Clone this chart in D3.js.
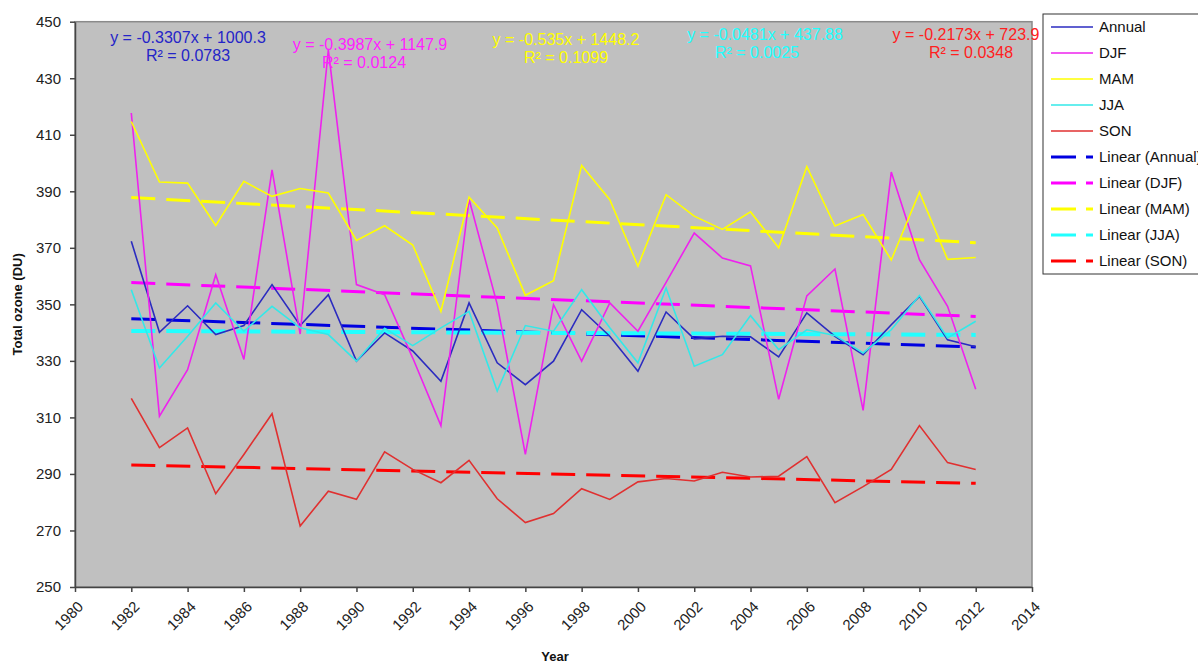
<!DOCTYPE html>
<html>
<head>
<meta charset="utf-8">
<script src="https://cdn.jsdelivr.net/npm/d3@7"></script>
<style>
  body { margin: 0; background: #fff; }
  svg { font-family: Arial, "Liberation Sans", sans-serif; }
  .axis text { font-size: 15px; fill: #222; }
  .axis path, .axis line { stroke: #444; stroke-width: 1.5; }
  .title { font-size: 13px; font-weight: bold; fill: #111; }
  .eq { font-size: 16px; text-anchor: middle; }
  .legend text { font-size: 15px; fill: #111; }
</style>
</head>
<body>
<svg width="1198" height="663"></svg>
<script>
// years on the x axis
const years = d3.range(1982, 2013)

// series values (DU)
const annual = [372.3, 340.1, 349.5, 339.3, 342.5, 357.0, 342.5, 353.4, 329.9, 339.9, 333.5,
  322.8, 350.5, 329.3, 321.6, 329.9, 348.1, 338.7, 326.3, 347.3, 337.8, 338.7, 338.5, 331.4,
  347.0, 338.7, 332.2, 342.8, 352.8, 337.5, 335.0]
const djf = [417.7, 310.4, 326.9, 360.5, 330.5, 397.6, 339.5, 440.0, 357.0, 353.4, 331.0,
  307.1, 387.2, 350.0, 296.9, 349.9, 329.9, 350.5, 340.5, 357.8, 375.2, 366.4, 363.6, 316.4,
  353.0, 362.5, 312.5, 396.8, 365.8, 349.3, 320.0]
const mam = [414.7, 393.3, 392.9, 377.9, 393.5, 388.2, 391.0, 389.4, 372.6, 377.8, 371.0,
  347.5, 387.9, 377.0, 353.2, 358.4, 399.1, 387.0, 363.5, 388.8, 381.2, 376.5, 382.7, 370.0,
  398.7, 377.7, 381.8, 365.7, 389.7, 365.9, 366.6]
const jja = [355.2, 327.5, 338.7, 350.5, 340.5, 349.3, 341.7, 339.3, 329.9, 341.5, 335.4,
  341.7, 347.5, 319.3, 342.5, 340.5, 355.2, 341.7, 329.3, 355.8, 328.1, 332.2, 346.0, 334.0,
  341.0, 339.0, 332.8, 341.0, 353.1, 338.1, 344.0]
const son = [316.7, 299.3, 306.3, 283.0, 296.9, 311.3, 271.6, 283.9, 281.0, 297.8, 291.6,
  286.9, 294.8, 281.2, 272.8, 276.0, 284.8, 281.0, 287.2, 288.4, 287.5, 290.6, 288.9, 289.2,
  296.1, 279.8, 285.5, 291.6, 307.1, 294.0, 291.6]

// linear trend end points (1982, 2012)
const trendStart = [344.9, 357.7, 387.8, 340.6, 293.2]
const trendEnd = [334.9, 345.7, 371.8, 339.2, 286.7]

// labels
const seriesNames = ["Annual", "DJF", "MAM", "JJA", "SON"]
const equations = ["y = -0.3307x + 1000.3", "y = -0.3987x + 1147.9", "y = -0.535x + 1448.2",
  "y = -0.0481x + 437.88", "y = -0.2173x + 723.9"]
const rSquared = ["R² = 0.0783", "R² = 0.0124", "R² = 0.1099", "R² = 0.0025", "R² = 0.0348"]

const seriesValues = [annual, djf, mam, jja, son]
const lineColors = ["#2b2bc0", "#ee22ee", "#ffff00", "#33e8e8", "#e03030"]
const trendColors = ["#0000e0", "#ff00ff", "#ffff00", "#22ffff", "#ff0000"]
const textColors = ["#2424c8", "#ff22ff", "#ffff00", "#22ffff", "#ff2020"]

const svg = d3.select("svg")

// scales
const x = d3.scaleLinear().domain([1980, 2014]).range([75, 1032])
const y = d3.scaleLinear().domain([250, 450]).range([587, 21.7])

// plot area
svg.append("rect")
  .attr("x", x(1980))
  .attr("y", y(450))
  .attr("width", x(2014) - x(1980))
  .attr("height", y(250) - y(450))
  .attr("fill", "#c0c0c0")
  .attr("stroke", "#8a8a8a")
  .attr("stroke-width", 1.5)

// axes
svg.append("g")
  .attr("class", "axis")
  .attr("transform", `translate(${x(1980)},0)`)
  .call(d3.axisLeft(y).tickValues(d3.range(250, 451, 20)).tickSize(5).tickPadding(9).tickSizeOuter(0))

const xAxis = svg.append("g")
  .attr("class", "axis")
  .attr("transform", `translate(0,${y(250)})`)
  .call(d3.axisBottom(x).tickValues(d3.range(1980, 2015, 2)).tickFormat(d3.format("d")).tickSize(5).tickSizeOuter(0))

xAxis.selectAll("text")
  .attr("x", 0)
  .attr("y", 0)
  .attr("dy", "0.35em")
  .attr("text-anchor", "end")
  .attr("transform", "translate(5,17) rotate(-45)")

// axis titles
svg.append("text")
  .attr("class", "title")
  .attr("transform", `translate(22,${(y(450) + y(250)) / 2}) rotate(-90)`)
  .attr("text-anchor", "middle")
  .text("Total ozone (DU)")

svg.append("text")
  .attr("class", "title")
  .attr("x", 555)
  .attr("y", 661)
  .attr("text-anchor", "middle")
  .text("Year")

// trend lines
const trendLine = d3.line()
  .x(d => x(d[0]))
  .y(d => y(d[1]))

seriesNames.forEach((name, i) => {
  svg.append("path")
    .datum([[1982, trendStart[i]], [2012, trendEnd[i]]])
    .attr("d", trendLine)
    .attr("fill", "none")
    .attr("stroke", trendColors[i])
    .attr("stroke-width", i == 3 ? 4 : 3)
    .attr("stroke-dasharray", "24,11")
})

// data lines
const valueLine = d3.line()
  .x((d, i) => x(years[i]))
  .y(d => y(d))

seriesValues.forEach((vals, i) => {
  svg.append("path")
    .datum(vals)
    .attr("d", valueLine)
    .attr("fill", "none")
    .attr("stroke", lineColors[i])
    .attr("stroke-width", 1.6)
})

// regression labels
const eqX = [188, 370, 566, 765, 966]
const eqY = [43, 50, 45, 40, 40]

equations.forEach((eq, i) => {
  svg.append("text")
    .attr("class", "eq")
    .attr("x", eqX[i])
    .attr("y", eqY[i])
    .attr("fill", textColors[i])
    .text(eq)
  svg.append("text")
    .attr("class", "eq")
    .attr("x", eqX[i] + (i == 1 ? -6 : i == 3 ? -8 : i == 4 ? 5 : 0))
    .attr("y", eqY[i] + 18)
    .attr("fill", textColors[i])
    .text(rSquared[i])
})

// legend
const legend = svg.append("g").attr("class", "legend")

legend.append("rect")
  .attr("x", 1043)
  .attr("y", 14)
  .attr("width", 170)
  .attr("height", 260)
  .attr("fill", "#fff")
  .attr("stroke", "#333")

const legendItems = seriesNames.map((n, i) => ({ label: n, color: lineColors[i], dashed: false }))
  .concat(seriesNames.map((n, i) => ({ label: "Linear (" + n + ")", color: trendColors[i], dashed: true })))

const rows = legend.selectAll("g.item")
  .data(legendItems)
  .enter()
  .append("g")
  .attr("class", "item")
  .attr("transform", (d, i) => `translate(0,${27 + i * 26})`)

rows.append("line")
  .attr("x1", 1051)
  .attr("x2", 1093)
  .attr("y1", 0)
  .attr("y2", 0)
  .attr("stroke", d => d.color)
  .attr("stroke-width", d => d.dashed ? 3 : 1.6)
  .attr("stroke-dasharray", d => d.dashed ? "25,10" : null)

rows.append("text")
  .attr("x", 1099)
  .attr("y", 0)
  .attr("dy", "0.35em")
  .text(d => d.label)
</script>
</body>
</html>
